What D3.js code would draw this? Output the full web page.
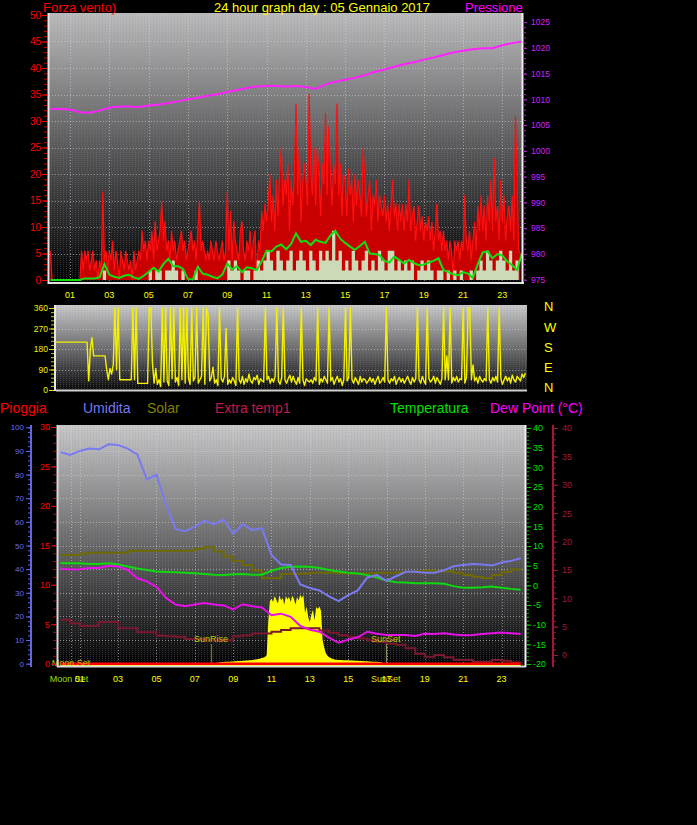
<!DOCTYPE html>
<html><head><meta charset="utf-8">
<script src="https://cdn.jsdelivr.net/npm/d3@7"></script>
<style>
body{margin:0;background:#000;}
svg{display:block;}
</style></head><body>
<svg id="c" width="697" height="825"></svg>
<script>
// ---------------- DATA ----------------
const titleText = "24 hour graph day : 05 Gennaio 2017";
const oddHours = [1,3,5,7,9,11,13,15,17,19,21,23];
const hourLabels = ["01","03","05","07","09","11","13","15","17","19","21","23"];

// wind gust (Forza vento), every 5 minutes from 00:00
const gust = [
5.5,0,0,0,0,0,0,0,0,0,0,0,
0,0,0,0,0,0,0,5.5,1.8,5.5,3.7,5.5,
1.8,3.7,5.5,1.8,3.7,0,3.7,1.8,16.7,3.7,5.5,1.8,
5.5,3.7,7.4,1.8,5.5,3.7,0,5.5,3.7,1.8,5.5,3.7,
1.8,3.7,0,5.5,1.8,3.7,5.5,3.7,9.3,5.5,7.4,3.7,
7.4,5.5,9.3,3.7,11.1,5.5,7.4,9.3,14.8,7.4,11.1,5.5,
7.4,3.7,9.3,5.5,7.4,3.7,5.5,7.4,9.3,5.5,7.4,3.7,
5.5,7.4,9.3,5.5,7.4,3.7,9.3,14.8,5.5,7.4,5.5,3.7,
5.5,3.7,7.4,5.5,3.7,7.4,5.5,3.7,5.5,7.4,3.7,5.5,
16.7,5.5,13,3.7,11.1,7.4,5.5,3.7,9.3,11.1,5.5,3.7,
7.4,5.5,9.3,3.7,7.4,9.3,0,7.4,5.5,13,9.3,14.4,
11,14.4,20,11,16,9.3,18.9,12,20,25,14,18.9,
16,22,9.3,18.9,14,20,33.3,16,25,11,18,22,
18.9,14,35.2,20,16,25,14,25,20,12,22,18,
31.5,16,29,20,14,22,18,33.3,16,22,12,20,
18.9,12,21,16,18.9,11,20,14,18.9,16,12,25,
18.9,12,16,18.9,9.3,16,14,18.9,11,16,14,12,
16,11,14.4,9.3,14,18.9,12,14.4,9.3,14.4,11,14.4,
9.3,14.4,11,18.9,9.3,12,14,7.4,11,14,9.3,12,
7.4,11,9.3,12,7.4,11,5.5,9.3,14.4,7.4,9.3,5.5,
9.3,5.5,7.4,3.7,7.4,5.5,1,7.4,5.5,7.4,3.7,7.4,
5.5,16,7.4,5.5,9.3,3.7,7.4,11,5.5,14,9.3,16,
9.3,14,7.4,16,11,18.9,9.3,23,11,14,7.4,18.9,
11,16,7.4,12,14,9.3,16,7.4,31,18.9,5.5,5
];
// wind speed, every 10 minutes
const windSpeed = [
0,0,0,0,0,0, 0,0,0,0,0,0, 0,0,0,0,1.8,0, 0,0,0,0,0,0,
0,0,0,0,0,0, 1.8,0,1.8,1.8,0,1.8, 1.8,3.7,1.8,0,1.8,0, 0,0,1.8,0,0,0,
0,0,0,0,0,0, 3.7,1.8,3.7,1.8,0,1.8, 1.8,0,1.8,3.7,1.8,3.7, 5.5,3.7,1.8,5.5,3.7,1.8,
3.7,5.5,1.8,3.7,5.5,3.7, 1.8,5.5,3.7,1.8,5.5,3.7, 5.5,3.7,9.3,3.7,5.5,1.8, 3.7,1.8,5.5,3.7,1.8,3.7,
5.5,1.8,3.7,1.8,5.5,3.7, 1.8,5.5,5.5,1.8,3.7,1.8, 3.7,1.8,3.7,0,1.8,3.7, 1.8,3.7,1.8,0,1.8,1.8,
0,1.8,0,1.8,0,1.8, 0,0,1.8,0,1.8,3.7, 1.8,5.5,3.7,1.8,3.7,5.5, 3.7,1.8,5.5,1.8,3.7,1.8
];
// average wind, every 15 minutes (00:00 .. 24:00)
const windAvg = [
0,0,0,0,0,0,0,0.3,0.3,0.3,0.5,3.0,
1.0,0.6,0.4,0.8,1.0,0.5,0.2,0.8,1.5,2.3,1.6,3.0,
4.0,2.6,2.6,2.1,0.2,0.1,2.5,1.2,1.0,0.6,0.3,1.0,
3.1,2.0,2.6,1.5,2.4,2.2,1.9,3.5,5.5,5.4,6.3,6.7,
5.8,6.8,8.8,7.2,7.4,6.6,7.6,7.2,7.0,8.4,9.3,7.8,
7.0,6.3,5.7,6.4,7.2,5.0,4.9,4.7,3.6,3.3,4.4,3.8,
3.1,3.8,3.2,2.8,2.9,3.3,3.6,4.1,1.9,1.5,1.1,0.9,
1.5,1.2,0.4,3.0,5.2,5.4,4.1,4.9,4.6,3.5,2.8,1.9,5.0
];
// pressure hPa, every 30 minutes
const pressure = [
1008.1,1008.1,1008.0,1007.5,1007.4,1007.8,1008.4,1008.6,1008.6,1008.5,
1008.8,1009.0,1009.3,1009.6,1010.0,1010.3,1010.7,1011.0,1011.4,1011.8,
1012.2,1012.5,1012.6,1012.6,1012.5,1012.6,1012.4,1012.0,1012.9,1013.4,
1013.8,1014.2,1014.7,1015.3,1015.8,1016.3,1016.8,1017.2,1017.7,1018.1,
1018.6,1019.1,1019.4,1019.7,1019.9,1019.9,1020.5,1020.9,1021.2
];
// wind direction degrees, every 5 minutes
const windDir = [
210,210,210,210,210,210,210,210,210,210,210,210,
210,210,210,210,210,210,210,210,40,180,230,150,
150,150,150,150,150,150,150,90,45,95,70,110,
360,90,360,45,45,45,45,45,45,45,45,360,
45,360,29,29,29,29,29,29,29,360,360,115,
30,95,25,45,15,360,35,360,40,20,360,50,
360,35,55,20,360,45,360,30,360,50,25,360,
40,55,360,30,45,60,360,25,360,330,40,55,
100,30,45,20,360,50,35,60,270,25,45,30,
55,40,20,360,45,30,60,25,50,35,70,40,
30,55,45,65,25,50,40,35,360,45,60,30,
50,35,60,360,40,25,55,360,45,30,50,65,
35,60,40,25,55,30,360,45,20,50,40,35,
45,30,55,40,360,25,50,35,60,45,30,360,
40,55,25,45,60,35,50,20,45,360,40,55,
360,45,30,55,40,25,60,35,50,45,30,40,
55,35,50,25,45,60,30,40,55,35,360,45,
30,50,40,60,25,45,55,35,50,30,45,60,
40,25,55,35,50,360,45,30,60,40,25,360,
50,35,45,60,30,55,40,25,50,360,45,150,
45,360,30,55,40,60,35,50,45,360,30,55,
360,360,45,110,40,55,30,60,45,35,50,40,
360,45,30,55,40,60,35,360,50,25,45,60,
40,55,30,65,45,35,60,50,40,70,55,75
];
// bottom chart, every 30 minutes
const humidity = [
89.5,88.3,90,91,90.7,92.8,92.5,91,88.5,78,80,67,57,56,58,60.5,59,61,55,59,
56.5,57.3,46,42,41.8,33.5,32,31,28.5,26.5,29,31,36.5,37.5,35,37,38.9,38.9,38.5,38.5,
39.5,41.2,41.8,42.2,42,41.5,42.8,43.5,44.6
];
const temperature = [
5.7,5.6,5.6,5.4,5.4,5.6,5.3,4.8,4.3,3.9,3.5,3.4,3.3,3.2,3.1,2.9,2.7,2.6,2.8,2.9,
2.7,2.7,3.7,4.4,4.7,4.8,4.7,4.4,3.9,3.5,3.2,3.0,2.6,2.0,1.2,0.8,0.7,0.5,0.5,0.5,
0.4,-0.2,-0.6,-0.6,-0.5,-0.3,-0.6,-0.9,-1.1
];
const dewPoint = [
4.3,4.0,4.1,4.4,4.4,5.0,4.8,3.9,1.8,1.0,-0.4,-3.2,-4.9,-5.3,-4.9,-4.5,-4.9,-5.1,-6.1,-4.8,
-5.3,-5.6,-7.6,-7.2,-8.0,-10.3,-11.3,-11.8,-13.3,-14.6,-13.8,-13.2,-11.8,-12.3,-12.6,-12.6,-12.6,-12.9,-12.3,-12.4,
-12.2,-12.5,-12.7,-12.6,-12.4,-12.2,-12.0,-12.2,-12.4
];
const extraTemp1 = [
6.2,5.6,5.1,5.1,5.8,5.8,4.7,4.7,4.0,4.0,3.4,3.3,3.2,2.8,2.8,2.6,2.6,2.6,3.3,3.5,
3.8,3.8,4.1,4.4,4.7,4.7,4.7,4.3,3.9,3.5,3.2,2.9,2.6,2.3,2.0,1.8,1.2,0.2,-0.3,0.0,
-0.4,-0.9,-0.9,-1.2,-1.2,-0.9,-1.0,-1.3,-1.4
];
const solarIndex = [
7.7,7.7,8.1,8.3,8.3,8.3,8.3,8.8,8.8,8.8,8.8,8.8,8.8,8.8,9.3,9.7,8.6,7.3,6.2,5.2,
3.8,1.8,1.8,2.9,2.9,3.0,3.2,3.2,3.2,3.1,3.0,3.0,3.1,3.2,3.2,3.3,3.4,3.6,3.8,3.6,
3.5,3.2,2.6,2.2,1.8,2.6,3.4,4.0,4.3
];
// solar radiation W/m2, every 5 minutes from 08:00 to 17:00
const solarStart = 8;
const solarRad = [
0,3,5,6,7,8,8,9,9,10,10,11,
11,12,12,13,13,13,14,14,15,15,16,16,
17,18,19,20,21,23,25,27,30,38,180,265,
275,262,287,270,255,290,268,280,250,287,272,284,
262,288,275,250,283,268,292,279,291,215,240,198,
175,210,228,185,240,232,243,225,101,70,46,35,
30,25,22,20,18,18,17,17,17,16,16,16,
16,15,15,15,14,14,14,13,13,13,12,12,
12,11,11,10,10,9,9,8,8,6,4,2,
0
];
const rain = [0,0,0,0,0,0,0,0,0,0,0,0,0,0,0,0,0,0,0,0,0,0,0,0,0];
const markers = [{name:"Moon Set", h:0.54},{name:"SunRise", h:7.85},{name:"SunSet", h:16.96}];

// ---------------- DRAWING ----------------
const FONT = "'Liberation Sans', Arial, sans-serif";
const fmt = d => String(d);
const svg = d3.select("#c").attr("font-family", FONT);
const defs = svg.append("defs");
function grad(id, stops){
  const g = defs.append("linearGradient").attr("id",id).attr("x1",0).attr("y1",0).attr("x2",0).attr("y2",1);
  stops.forEach(([o,c])=>g.append("stop").attr("offset",o).attr("stop-color",c));
}
grad("gTop",[[0,"#bcbcbc"],[0.5,"#585858"],[1,"#000"]]);
grad("gDir",[[0,"#cacaca"],[0.6,"#5a5a5a"],[1,"#080808"]]);
grad("gBot",[[0,"#c8c8c8"],[0.5,"#666666"],[1,"#000"]]);
const pat = defs.append("pattern").attr("id","dots").attr("width",3).attr("height",2).attr("patternUnits","userSpaceOnUse");
pat.append("rect").attr("width",1).attr("height",1).attr("fill","#8a8aa8");

function clip(id, x, y, w, h){
  defs.append("clipPath").attr("id",id).append("rect").attr("x",x).attr("y",y).attr("width",w).attr("height",h);
}
function styleAxis(g, color, fs, tickColor){
  g.attr("font-family", FONT);
  g.select(".domain").remove();
  g.selectAll("line").attr("stroke", tickColor || color);
  g.selectAll("text").attr("fill", color).attr("font-size", fs);
}
function hgrid(g, vals, y, x1, x2){
  g.append("g").selectAll("line").data(vals).join("line")
    .attr("x1",x1).attr("x2",x2).attr("y1",d=>Math.round(y(d))+0.5).attr("y2",d=>Math.round(y(d))+0.5)
    .attr("stroke","#d8d8d8").attr("stroke-opacity",0.55).attr("stroke-dasharray","1,2");
}
function vgrid(g, vals, x, y1, y2){
  g.append("g").selectAll("line").data(vals).join("line")
    .attr("y1",y1).attr("y2",y2).attr("x1",d=>Math.round(x(d))+0.5).attr("x2",d=>Math.round(x(d))+0.5)
    .attr("stroke","#d8d8d8").attr("stroke-opacity",0.55).attr("stroke-dasharray","1,2");
}

// ===== TOP CHART =====
const T = {l:49, r:522, t:13, b:283};
const xT = d3.scaleLinear().domain([0,24]).range([50.4,522]);
const yW = d3.scaleLinear().domain([0,50]).range([280,15]);
const yP = d3.scaleLinear().domain([975,1025]).range([279.7,22]);
svg.append("rect").attr("x",T.l).attr("y",T.t).attr("width",T.r-T.l).attr("height",T.b-T.t).attr("fill","url(#gTop)");
svg.append("rect").attr("x",T.l).attr("y",T.t).attr("width",T.r-T.l).attr("height",T.b-T.t).attr("fill","url(#dots)").attr("opacity",0.3);
clip("cT", T.l, T.t, T.r-T.l, T.b-T.t);
const gT = svg.append("g").attr("clip-path","url(#cT)");
hgrid(gT, d3.range(5,50,5), yW, T.l, T.r);
vgrid(gT, oddHours, xT, T.t, T.b);

const tG = (i)=> i/12, tS = (i)=> i/6, tA = (i)=> i/4, tH = (i)=> i/2;
gT.append("path").datum(gust)
  .attr("d", d3.area().x((d,i)=>xT(tG(i))).y0(yW(0)).y1(d=>yW(d)))
  .attr("fill","#c80000");
gT.append("path").datum(gust)
  .attr("d", d3.line().x((d,i)=>xT(tG(i))).y(d=>yW(d)))
  .attr("fill","none").attr("stroke","#ff1010").attr("stroke-width",1.2);
gT.append("path").datum(windSpeed)
  .attr("d", d3.area().curve(d3.curveStepAfter).x((d,i)=>xT(tS(i))).y0(yW(0)).y1(d=>yW(d)))
  .attr("fill","#ccf2cc").attr("opacity",0.9);
gT.append("path").datum(windAvg)
  .attr("d", d3.line().x((d,i)=>xT(tA(i))).y(d=>yW(d)))
  .attr("fill","none").attr("stroke","#10e010").attr("stroke-width",2);
gT.append("path").datum(pressure)
  .attr("d", d3.line().x((d,i)=>xT(tH(i))).y(d=>yP(d)))
  .attr("fill","none").attr("stroke","#ff22ff").attr("stroke-width",2);

// borders
svg.append("line").attr("x1",48.5).attr("x2",48.5).attr("y1",T.t).attr("y2",T.b+1).attr("stroke","#e6e6e6").attr("stroke-width",2);
svg.append("line").attr("x1",T.l).attr("x2",T.r+2).attr("y1",T.b).attr("y2",T.b).attr("stroke","#e0e0e0").attr("stroke-width",2);
svg.append("line").attr("x1",T.r+0.5).attr("x2",T.r+0.5).attr("y1",T.t).attr("y2",T.b).attr("stroke","#f0f0f0").attr("stroke-width",2);

// axes
styleAxis(svg.append("g").attr("transform","translate(47,0)")
  .call(d3.axisLeft(yW).tickValues(d3.range(0,51,1)).tickSize(3).tickFormat("")), "#ff0000", 10, "#d00000");
styleAxis(svg.append("g").attr("transform","translate(47,0)")
  .call(d3.axisLeft(yW).tickValues(d3.range(0,51,5)).tickSize(5).tickPadding(1).tickFormat(fmt)), "#ff0000", "10px", "#ff0000");
styleAxis(svg.append("g").attr("transform","translate(523,0)")
  .call(d3.axisRight(yP).tickValues(d3.range(975,1026,1)).tickSize(3).tickFormat("")), "#cc22ff", 8, "#b020d0");
styleAxis(svg.append("g").attr("transform","translate(523,0)")
  .call(d3.axisRight(yP).tickValues(d3.range(975,1026,5)).tickSize(4).tickPadding(4).tickFormat(fmt)), "#cc22ff", "8.5px", "#b020d0");
svg.append("g").selectAll("text").data(oddHours).join("text")
  .attr("x",d=>xT(d)).attr("y",298).attr("text-anchor","middle")
  .attr("fill","#ffff00").attr("font-size","9px").text((d,i)=>hourLabels[i]);

// titles
svg.append("text").attr("x",43).attr("y",12).attr("fill","#ff0000").attr("font-size","13px").text("Forza vento)");
svg.append("text").attr("x",322).attr("y",12).attr("text-anchor","middle").attr("fill","#ffff00").attr("font-size","13px").text(titleText);
svg.append("text").attr("x",465).attr("y",12).attr("fill","#ff00ff").attr("font-size","13px").text("Pressione");

// ===== WIND DIRECTION CHART =====
const D = {l:56, r:527, t:305, b:391};
const xD = d3.scaleLinear().domain([0,24]).range([56,527]);
const yD = d3.scaleLinear().domain([0,360]).range([390,308]);
svg.append("rect").attr("x",D.l).attr("y",D.t).attr("width",D.r-D.l).attr("height",D.b-D.t).attr("fill","url(#gDir)");
svg.append("rect").attr("x",D.l).attr("y",D.t).attr("width",D.r-D.l).attr("height",D.b-D.t).attr("fill","url(#dots)").attr("opacity",0.3);
clip("cD", D.l, D.t, D.r-D.l, D.b-D.t);
const gD = svg.append("g").attr("clip-path","url(#cD)");
hgrid(gD, [90,180,270], yD, D.l, D.r);
gD.append("path").datum(windDir)
  .attr("d", d3.line().x((d,i)=>xD(tG(i))).y(d=>yD(d)))
  .attr("fill","none").attr("stroke","#f4f000").attr("stroke-width",1.4).attr("stroke-linejoin","round");
svg.append("line").attr("x1",55).attr("x2",55).attr("y1",D.t).attr("y2",D.b).attr("stroke","#e6e6e6").attr("stroke-width",2);
svg.append("line").attr("x1",D.l).attr("x2",D.r).attr("y1",D.b-0.5).attr("y2",D.b-0.5).attr("stroke","#d0d0d0").attr("stroke-width",2);
styleAxis(svg.append("g").attr("transform","translate(54,0)")
  .call(d3.axisLeft(yD).tickValues(d3.range(0,361,18)).tickSize(3).tickFormat("")), "#e0e000", 8, "#c8c800");
styleAxis(svg.append("g").attr("transform","translate(54,0)")
  .call(d3.axisLeft(yD).tickValues([0,90,180,270,360]).tickSize(5).tickPadding(1).tickFormat(fmt)), "#f0f000", "8.5px", "#e0e000");
const compass = ["N","W","S","E","N"];
svg.append("g").selectAll("text").data(compass).join("text")
  .attr("x",544).attr("y",(d,i)=>[311,332,352,372,392][i])
  .attr("fill","#ffff00").attr("font-size","13px").text(d=>d);

// ===== BOTTOM CHART =====
const legend = [
  {t:"Pioggia", x:0, c:"#ff0000"},
  {t:"Umidita", x:83, c:"#7878f0"},
  {t:"Solar", x:147, c:"#808000"},
  {t:"Extra temp1", x:215, c:"#c01848"},
  {t:"Temperatura", x:390, c:"#00e000"},
  {t:"Dew Point (\u00B0C)", x:490, c:"#ff00ff"}
];
svg.append("g").selectAll("text").data(legend).join("text")
  .attr("x",d=>d.x).attr("y",413).attr("fill",d=>d.c).attr("font-size","14px").text(d=>d.t);

const B = {l:57, r:525, t:425, b:667};
const xB = d3.scaleLinear().domain([0,24]).range([60.6,520.7]);
const yHum = d3.scaleLinear().domain([0,100]).range([663.7,427.3]);
const yRain = d3.scaleLinear().domain([0,30]).range([663.7,427]);
const yTmp = d3.scaleLinear().domain([-20,40]).range([664,428]);
const yX = d3.scaleLinear().domain([0,40]).range([655,428]);
const ySol = d3.scaleLinear().domain([0,1000]).range([664,427]);
svg.append("rect").attr("x",B.l).attr("y",B.t).attr("width",B.r-B.l).attr("height",B.b-B.t).attr("fill","url(#gBot)");
svg.append("rect").attr("x",B.l).attr("y",B.t).attr("width",B.r-B.l).attr("height",B.b-B.t).attr("fill","url(#dots)").attr("opacity",0.3);
clip("cB", B.l, B.t, B.r-B.l, B.b-B.t);
const gB = svg.append("g").attr("clip-path","url(#cB)");
hgrid(gB, d3.range(10,101,10), yHum, B.l, B.r);
vgrid(gB, oddHours, xB, B.t, B.b);
vgrid(gB, [markers[0].h], xB, B.t, B.b);

gB.append("path").datum(solarRad)
  .attr("d", d3.area().x((d,i)=>xB(solarStart + i/12)).y0(ySol(0)).y1(d=>ySol(d)))
  .attr("fill","#ffff00");
gB.append("path").datum(solarIndex)
  .attr("d", d3.line().curve(d3.curveStepAfter).x((d,i)=>xB(tH(i))).y(d=>yTmp(d)))
  .attr("fill","none").attr("stroke","#6e6a00").attr("stroke-width",2);
gB.append("path").datum(extraTemp1)
  .attr("d", d3.line().curve(d3.curveStepAfter).x((d,i)=>xB(tH(i))).y(d=>yX(d)))
  .attr("fill","none").attr("stroke","#7a1830").attr("stroke-width",2);
gB.append("path").datum(temperature)
  .attr("d", d3.line().x((d,i)=>xB(tH(i))).y(d=>yTmp(d)))
  .attr("fill","none").attr("stroke","#10d810").attr("stroke-width",2);
gB.append("path").datum(dewPoint)
  .attr("d", d3.line().x((d,i)=>xB(tH(i))).y(d=>yTmp(d)))
  .attr("fill","none").attr("stroke","#e810e8").attr("stroke-width",2);
gB.append("path").datum(humidity)
  .attr("d", d3.line().x((d,i)=>xB(tH(i))).y(d=>yHum(d)))
  .attr("fill","none").attr("stroke","#7a7af0").attr("stroke-width",2);
// rain + solar baseline
gB.append("path").datum(rain)
  .attr("d", d3.line().x((d,i)=>xB(i)).y(d=>yRain(d)+2))
  .attr("fill","none").attr("stroke","#ffff00").attr("stroke-width",1.6);
gB.append("path").datum(rain)
  .attr("d", d3.line().x((d,i)=>xB(i)).y(d=>yRain(d)))
  .attr("fill","none").attr("stroke","#ff0000").attr("stroke-width",2.5);

// sun/moon markers
const sunM = markers.slice(1);
gB.append("g").selectAll("line").data(sunM).join("line")
  .attr("x1",d=>Math.round(xB(d.h))+0.5).attr("x2",d=>Math.round(xB(d.h))+0.5)
  .attr("y1",644).attr("y2",663).attr("stroke",(d,i)=>i===0?"#7a7400":"#8a8a60").attr("stroke-width",1.2);
svg.append("g").selectAll("text").data(sunM).join("text")
  .attr("x",d=>xB(d.h)).attr("y",642).attr("text-anchor","middle")
  .attr("fill","#c8c400").attr("font-size","9px").text(d=>d.name);
svg.append("text").attr("x",xB(markers[0].h)).attr("y",666).attr("text-anchor","middle")
  .attr("fill","#c8c400").attr("font-size","9px").text(markers[0].name);

// borders
svg.append("line").attr("x1",57.5).attr("x2",57.5).attr("y1",B.t).attr("y2",B.b).attr("stroke","#d8d8d8").attr("stroke-width",2);
svg.append("line").attr("x1",B.l).attr("x2",B.r+1).attr("y1",B.b-0.5).attr("y2",B.b-0.5).attr("stroke","#d8d8d8").attr("stroke-width",2);
svg.append("line").attr("x1",B.r+0.5).attr("x2",B.r+0.5).attr("y1",B.t).attr("y2",B.b).attr("stroke","#f0f0f0").attr("stroke-width",2);

// humidity axis (far left)
svg.append("line").attr("x1",31).attr("x2",31).attr("y1",425).attr("y2",667).attr("stroke","#6464e6").attr("stroke-width",2);
styleAxis(svg.append("g").attr("transform","translate(30,0)")
  .call(d3.axisLeft(yHum).tickValues(d3.range(0,101,2)).tickSize(2).tickFormat("")), "#6464e6", 8, "#6464e6");
styleAxis(svg.append("g").attr("transform","translate(30,0)")
  .call(d3.axisLeft(yHum).tickValues(d3.range(0,101,10)).tickSize(4).tickPadding(2).tickFormat(fmt)), "#6a6af0", "8px", "#6464e6");
// rain axis
styleAxis(svg.append("g").attr("transform","translate(56,0)")
  .call(d3.axisLeft(yRain).tickValues(d3.range(0,31,1)).tickSize(3).tickFormat("")), "#ff0000", 8, "#c00000");
styleAxis(svg.append("g").attr("transform","translate(56,0)")
  .call(d3.axisLeft(yRain).tickValues(d3.range(0,31,5)).tickSize(5).tickPadding(1).tickFormat(fmt)), "#ff0000", "9px", "#ff0000");
// temperature axis (right)
styleAxis(svg.append("g").attr("transform","translate(527,0)")
  .call(d3.axisRight(yTmp).tickValues(d3.range(-20,41,1)).tickSize(2).tickFormat("")), "#00e000", 8, "#00c000");
styleAxis(svg.append("g").attr("transform","translate(527,0)")
  .call(d3.axisRight(yTmp).tickValues(d3.range(-20,41,5)).tickSize(4).tickPadding(2).tickFormat(fmt)), "#00e000", "9px", "#00d000");
// extra temp axis
svg.append("line").attr("x1",553).attr("x2",553).attr("y1",425).attr("y2",667).attr("stroke","#a01838").attr("stroke-width",2);
styleAxis(svg.append("g").attr("transform","translate(554,0)")
  .call(d3.axisRight(yX).tickValues(d3.range(-1,41,1)).tickSize(2).tickFormat("")), "#a01838", 8, "#a01838");
styleAxis(svg.append("g").attr("transform","translate(554,0)")
  .call(d3.axisRight(yX).tickValues(d3.range(0,41,5)).tickSize(4).tickPadding(4).tickFormat(fmt)), "#a01838", "9px", "#a01838");

// bottom x labels (marker names overlap hour labels, as in the original)
svg.append("text").attr("x",xB(markers[0].h)-2).attr("y",682).attr("text-anchor","middle")
  .attr("fill","#a0dc00").attr("font-size","9px").text(markers[0].name);
svg.append("text").attr("x",xB(markers[2].h)).attr("y",682).attr("text-anchor","middle")
  .attr("fill","#e8e000").attr("font-size","9px").text(markers[2].name);
svg.append("g").selectAll("text").data(oddHours).join("text")
  .attr("x",d=>xB(d)).attr("y",682).attr("text-anchor","middle")
  .attr("fill","#ffff00").attr("font-size","9px").text((d,i)=>hourLabels[i]);
</script>
</body></html>
